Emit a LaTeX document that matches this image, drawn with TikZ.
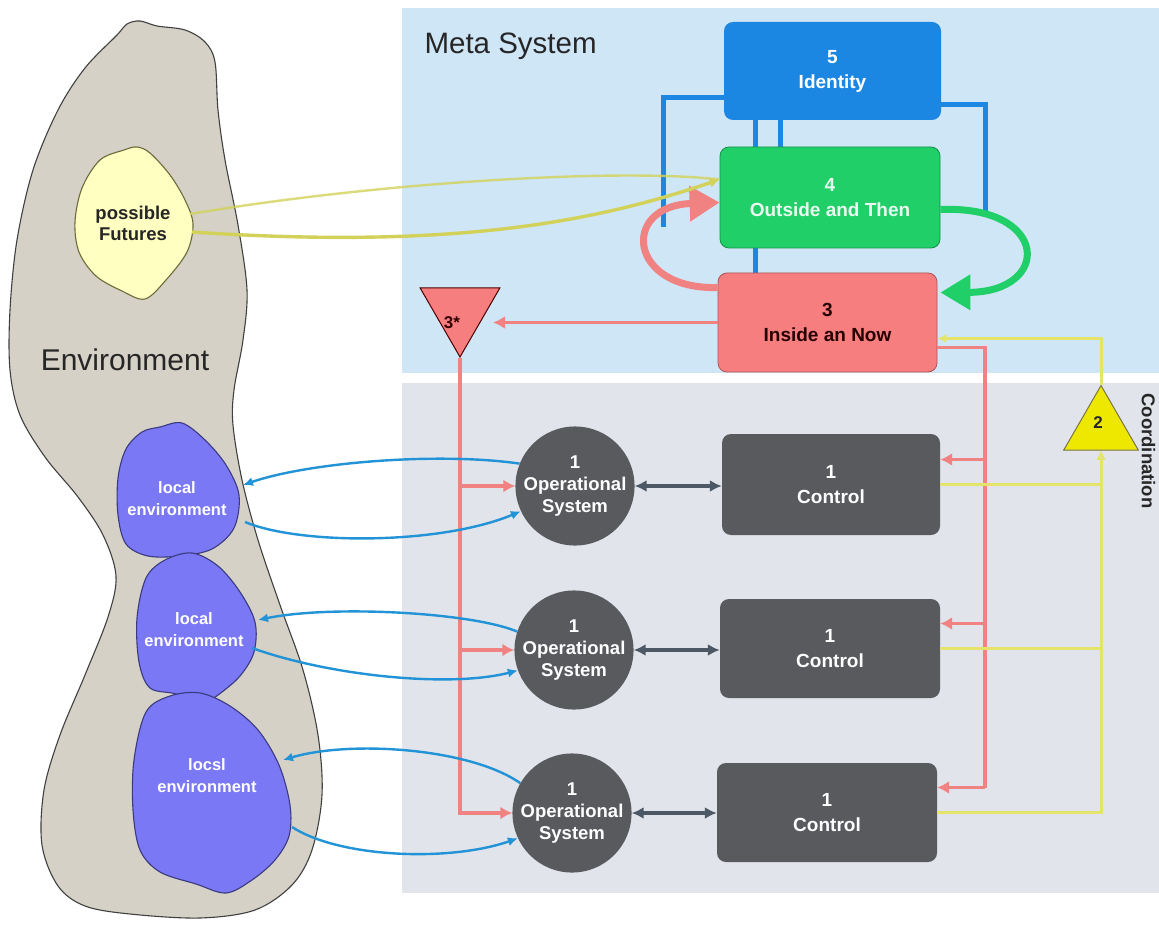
\documentclass[tikz,border=0pt]{standalone}
\usepackage{fontspec}
\setmainfont{Liberation Sans}
\usetikzlibrary{arrows.meta,shapes.geometric,calc}

\definecolor{metabg}{HTML}{CFE6F7}
\definecolor{opsbg}{HTML}{E1E4EA}
\definecolor{idblue}{HTML}{1B87E3}
\definecolor{intgreen}{HTML}{20CF68}
\definecolor{intgreenD}{HTML}{178F4A}
\definecolor{ctlred}{HTML}{F77E7E}
\definecolor{ctlredD}{HTML}{B05454}
\definecolor{cred}{HTML}{F08282}
\definecolor{cyel}{HTML}{E4E46A}
\definecolor{cyelD}{HTML}{D2D25A}
\definecolor{coordyel}{HTML}{EEE800}
\definecolor{opgrey}{HTML}{585A5E}
\definecolor{oparrow}{HTML}{4D5866}
\definecolor{envblue}{HTML}{2193D6}
\definecolor{envfill}{HTML}{D5D1C6}
\definecolor{localfill}{HTML}{7A78F5}
\definecolor{localline}{HTML}{3A3A80}
\definecolor{futfill}{HTML}{FFFFC2}
\definecolor{futline}{HTML}{6B6B3A}

\begin{document}
\begin{tikzpicture}[x=1pt,y=-1pt,
  sysbox/.style={rectangle, rounded corners=9pt, minimum width=218pt, minimum height=100pt,
    align=center, inner sep=2pt, font=\fontsize{19}{25}\selectfont\bfseries, text=white},
  opcircle/.style={circle, fill=opgrey, minimum size=116pt, inner sep=0pt, align=center,
    font=\fontsize{18.5}{22}\selectfont\bfseries, text=white},
  ctlbox/.style={sysbox, fill=opgrey},
  localtext/.style={align=center, font=\fontsize{16.5}{22}\selectfont\bfseries, text=white},
  idln/.style={draw=idblue, line width=5pt},
  redln/.style={draw=cred, line width=3.5pt},
  redarrow/.style={redln, -{Latex[length=12pt,width=13pt]}},
  yelln/.style={draw=cyel, line width=3pt},
  yelarrow/.style={yelln, -{Latex[length=9pt,width=9pt]}},
  blueenv/.style={draw=envblue, line width=2.4pt, -{Latex[length=10pt,width=9pt]}},
  oparr/.style={draw=oparrow, line width=3.4pt, {Latex[length=12pt,width=12pt]}-{Latex[length=12pt,width=12pt]}},
  blob/.style={line width=1.1pt}
]
\useasboundingbox (0,0) rectangle (1159,925);
\fill[white] (0,0) rectangle (1159,925);

% system regions
\fill[metabg] (402,8) rectangle (1159,373);
\fill[opsbg] (402,383) rectangle (1159,893);
\node[anchor=west, font=\fontsize{29.5}{33}\selectfont, text=black!85] (meta) at (421,46) {Meta System};

% environment
\draw[blob, draw=black!75, fill=envfill] plot[smooth cycle, tension=0.55] coordinates {
  (117,35) (127,24) (140,21) (157,26) (185,30) (205,42) (215,62) (218,110) (225,160)
  (238,225) (247,290) (243,340) (234,390) (233,425) (242,480) (258,540) (280,605)
  (303,670) (318,735) (322,795) (312,850) (292,885) (255,910) (200,918) (130,914)
  (85,906) (58,886) (42,845) (44,790) (60,735) (85,675) (108,617) (116,576) (103,535)
  (78,497) (45,457) (20,415) (10,370) (10,310) (17,240) (33,170) (58,110) (85,68)};
\node[font=\fontsize{30}{34}\selectfont, text=black!85] (envlbl) at (125,360) {Environment};

% possible futures
\draw[blob, draw=futline, fill=futfill] plot[smooth cycle, tension=0.55] coordinates {
  (82,188) (100,160) (124,150) (137,147) (150,153) (170,175) (185,200) (193,224)
  (187,252) (166,280) (145,299) (122,291) (96,276) (79,252) (75,222)};
\node[align=center, font=\fontsize{18.5}{21}\selectfont\bfseries, text=black!85] (fut) at (133,223) {possible\\Futures};

% local environments
\draw[blob, draw=localline, fill=localfill] plot[smooth cycle, tension=0.55] coordinates {
  (142,432) (160,427) (182,423) (205,440) (226,465) (239,495) (234,528) (212,549)
  (180,556) (148,556) (126,544) (118,515) (118,478) (126,449)};
\draw[blob, draw=localline, fill=localfill] plot[smooth cycle, tension=0.55] coordinates {
  (146,578) (165,560) (192,553) (218,566) (240,592) (255,622) (254,652) (240,676)
  (218,695) (200,705) (176,694) (150,688) (139,662) (137,618)};
\draw[blob, draw=localline, fill=localfill] plot[smooth cycle, tension=0.55] coordinates {
  (146,712) (170,696) (200,693) (230,706) (258,730) (279,765) (290,805) (289,836)
  (275,860) (252,880) (226,893) (196,884) (160,872) (140,850) (133,810) (134,760)};
\node[localtext] (le1) at (177,499) {local\\environment};
\node[localtext] (le2) at (194,630) {local\\environment};
\node[localtext] (le3) at (207,776) {locsl\\environment};
\coordinate (e1out) at (243,485);
\coordinate (e1in) at (245,522);
\coordinate (e2out) at (258,620);
\coordinate (e2in) at (252,648);
\coordinate (e3out) at (283,760);
\coordinate (e3in) at (292,827);

% metasystem links, drawn first so the boxes cover them
\node[sysbox, minimum width=217pt, minimum height=98pt] (s5pos) at (832.5,71) {};
\node[sysbox, minimum width=220pt, minimum height=101pt] (s4pos) at (830,197.5) {};
\node[sysbox, minimum width=219pt, minimum height=99pt] (s3pos) at (827.5,322.5) {};
\draw[idln] ([yshift=-27pt]s5pos.west) -| (663,227);
\draw[idln] ([yshift=-34pt]s5pos.east) -| (985,217);
\draw[idln] ([xshift=-77.5pt]s5pos.south) -- ([xshift=-77.5pt]s5pos.south |- s3pos.north);
\draw[idln] ([xshift=-52.5pt]s5pos.south) -- ([xshift=-52.5pt]s5pos.south |- s4pos.north);
\node[sysbox, fill=idblue, minimum width=217pt, minimum height=98pt] (s5) at (s5pos) {5\\Identity};
\node[sysbox, fill=intgreen, draw=intgreenD, line width=0.8pt, text=white!90!intgreen,
  minimum width=220pt, minimum height=101pt] (s4) at (s4pos) {4\\Outside and Then};
\node[sysbox, fill=ctlred, draw=ctlredD, line width=0.8pt, text=black!85!red,
  minimum width=219pt, minimum height=99pt] (s3) at (s3pos) {3\\Inside an Now};

% 4 <-> 3 loop
\draw[draw=intgreen, line width=7pt, -{Triangle[length=30pt,width=34pt]}]
  ([yshift=-12pt]s4.east) .. controls (1050,205) and (1052,292) .. ([yshift=30pt,xshift=3pt]s3.east);
\draw[draw=cred, line width=7pt, -{Triangle[length=30pt,width=34pt]}]
  ([yshift=35pt]s3.west) .. controls (628,290) and (620,206) .. ([yshift=-5pt]s4.west);

% 3* audit
\node[regular polygon, regular polygon sides=3, shape border rotate=180, minimum size=92pt,
  inner sep=0pt, fill=ctlred, draw=black!70!red, line width=1pt] (t3) at (460,311) {};
\node[font=\fontsize{17}{20}\selectfont\bfseries, text=black!80!red] (t3lbl) at (452,323) {3*};
\coordinate (t3in) at ([xshift=33pt]t3.center);
\draw[redarrow] (s3.west) -- (s3.west -| t3in);

% operational units
\node[opcircle] (o1) at (575,486) {1\\Operational\\System};
\node[opcircle] (o2) at (574,650) {1\\Operational\\System};
\node[opcircle] (o3) at (572,813) {1\\Operational\\System};
\node[ctlbox, minimum width=218pt, minimum height=101pt] (c1) at (831,484.5) {1\\Control};
\node[ctlbox, minimum width=220pt, minimum height=99pt] (c2) at (830,648.5) {1\\Control};
\node[ctlbox, minimum width=220pt, minimum height=99pt] (c3) at (827,812.5) {1\\Control};
\draw[oparr] (o1.east) -- (c1.west |- o1.east);
\draw[oparr] (o2.east) -- (c2.west |- o2.east);
\draw[oparr] (o3.east) -- (c3.west |- o3.east);

% audit channel down to the operations
\draw[redarrow] (t3.corner 1) |- (o3.west);
\draw[redarrow] (t3.corner 1 |- o1.west) -- (o1.west);
\draw[redarrow] (t3.corner 1 |- o2.west) -- (o2.west);

% command channel from 3 to the controls
\coordinate (rb) at (985,0);
\coordinate (c1in) at ([yshift=25pt]c1.east);
\coordinate (c2in) at ([yshift=25pt]c2.east);
\coordinate (c3in) at ([yshift=25pt]c3.east);
\draw[redln] ([yshift=-25pt]s3.east) -| (rb |- c3in);
\draw[redarrow] (rb |- c1in) -- (c1in);
\draw[redarrow] (rb |- c2in) -- (c2in);
\draw[redarrow] (rb |- c3in) -- (c3in);

% coordination
\node[regular polygon, regular polygon sides=3, minimum size=86pt, inner sep=0pt,
  fill=coordyel, draw=black!60!yellow, line width=1pt] (t2) at (1101,428.5) {};
\node[font=\fontsize{17}{20}\selectfont\bfseries, text=black!85] (t2lbl) at (1098,423) {2};
\node[rotate=-90, font=\fontsize{18.5}{20}\selectfont\bfseries, text=black!85] (coord) at (1148.5,451) {Coordination};
\draw[yelarrow] (c3.east) -| (t2.south);
\draw[yelarrow] (c2.east) -| (t2.south);
\draw[yelarrow] (c1.east) -| (t2.south);
\draw[yelarrow] (t2.corner 1) |- ([yshift=-16pt]s3.east);

% environment exchanges
\draw[blueenv] (o1.158) .. controls (440,452) and (310,462) .. (e1out);
\draw[blueenv] (e1in) .. controls (300,545) and (440,545) .. (o1.205);
\draw[blueenv] (o2.162) .. controls (470,612) and (330,605) .. (e2out);
\draw[blueenv] (e2in) .. controls (330,676) and (450,688) .. (o2.200);
\draw[blueenv] (o3.150) .. controls (470,748) and (350,740) .. (e3out);
\draw[blueenv] (e3in) .. controls (340,858) and (450,862) .. (o3.205);

% futures feeding system 4
\coordinate (fa) at (190,214);
\coordinate (fb) at (192,232);
\draw[draw=cyelD, line width=2.4pt, opacity=0.8] (fa) .. controls (380,182) and (620,168) .. ([yshift=18pt]s4.west);
\draw[draw=cyelD, line width=3.4pt, -{Latex[length=10pt,width=10pt]}] (fb) .. controls (460,250) and (600,220) .. ([yshift=18pt]s4.west);
\end{tikzpicture}
\end{document}
